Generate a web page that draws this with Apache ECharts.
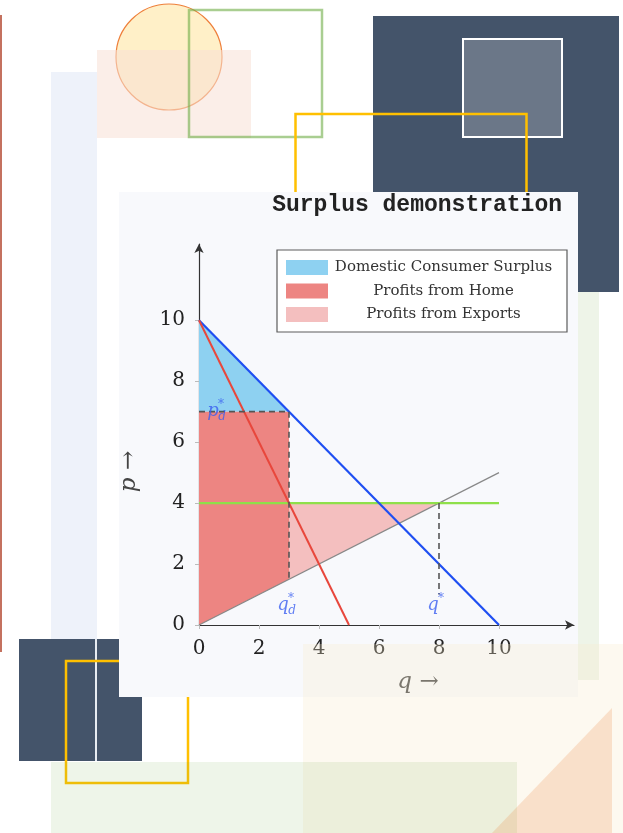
<!DOCTYPE html>
<html>
<head>
<meta charset="utf-8">
<script src="https://cdn.jsdelivr.net/npm/echarts@6/dist/echarts.min.js"></script>
<style>
  html, body { margin: 0; padding: 0; background: #fff; }
  #chart { width: 623px; height: 833px; }
</style>
</head>
<body>
<div id="chart"></div>
<script>
// tick labels
const xTicks = [0, 2, 4, 6, 8, 10];
const yTicks = [0, 2, 4, 6, 8, 10];

// curves, as (q, p) points
const demand = [[0, 10], [10, 0]];
const marginalRevenue = [[0, 10], [5, 0]];
const marginalCost = [[0, 0], [10, 5]];
const worldPrice = [[0, 4], [10, 4]];

// dashed guides
const pdGuide = [[0, 7], [3, 7]];
const qdGuide = [[3, 7], [3, 1.5]];
const qStarGuide = [[8, 4], [8, 1]];

// shaded regions
const consumerSurplus = [[0, 10], [0, 7], [3, 7]];
const homeProfits = [[0, 7], [3, 7], [3, 1.5], [0, 0]];
const exportProfits = [[3, 4], [8, 4], [3, 1.5]];
const areaNames = ['Domestic Consumer Surplus', 'Profits from Home', 'Profits from Exports'];

// guide labels: letter, subscript, anchor
const guideLabels = [['p', 'd', [0.47, 7.02]], ['q', 'd', [2.8, 0.66]], ['q', '', [7.8, 0.66]]];

const serif = 'DejaVu Serif';
const labelBlue = '#3a5ef0';

const chart = echarts.init(document.getElementById('chart'));

function area(name, pts, color) {
  return {
    type: 'custom',
    name: name,
    data: pts,
    z: 1,
    itemStyle: { color: color },
    renderItem: function (params, api) {
      if (params.dataIndex !== 0) return null;
      return {
        type: 'polygon',
        shape: { points: pts.map(function (p) { return api.coord(p); }) },
        style: { fill: color }
      };
    }
  };
}

function line(pts, color, width, dash) {
  return {
    type: 'line',
    data: pts,
    symbol: 'none',
    z: 3,
    lineStyle: { color: color, width: width, type: dash ? [6, 4] : 'solid' }
  };
}

// labels of the guides (letter + star + subscript)
const labelData = [];
guideLabels.forEach(function (g) {
  labelData.push({ value: g[2], label: { formatter: g[0], fontSize: 18 } });
  labelData.push({ value: g[2], label: { formatter: '*', fontSize: 12, offset: [8, -6] } });
  if (g[1]) labelData.push({ value: g[2], label: { formatter: g[1], fontSize: 12, offset: [9, 6] } });
});

const option = {
  backgroundColor: '#fff',
  animation: false,
  title: {
    text: 'Surplus demonstration',
    right: 61,
    top: 194,
    padding: 0,
    textStyle: { fontFamily: 'Liberation Mono', fontSize: 23, fontWeight: 'bold', color: '#222' }
  },
  legend: {
    data: areaNames,
    orient: 'vertical',
    left: 277,
    top: 250,
    padding: [10, 13, 10, 9],
    itemGap: 8.5,
    itemWidth: 42,
    itemHeight: 15,
    icon: 'rect',
    selectedMode: false,
    backgroundColor: '#fff',
    borderColor: '#5c5c5c',
    borderWidth: 1.2,
    formatter: function (name) { return '{c|' + name + '}'; },
    textStyle: {
      fontFamily: serif, fontSize: 15, color: '#333', lineHeight: 15,
      rich: { c: { width: 221, align: 'center', fontFamily: serif, fontSize: 15, lineHeight: 15, color: '#333' } }
    }
  },
  grid: { left: 199, right: 49, top: 244, bottom: 208 },
  xAxis: {
    type: 'value', min: 0, max: 12.5,
    name: '{i|q} →',
    nameLocation: 'middle',
    nameGap: 46,
    nameTextStyle: {
      fontFamily: serif, fontSize: 23, color: '#444', padding: [0, 0, 0, 63],
      rich: { i: { fontFamily: serif, fontStyle: 'italic', fontSize: 23, color: '#444' } }
    },
    axisLine: { lineStyle: { color: '#333', width: 1.2 }, symbol: ['none', 'arrow'], symbolSize: [7, 9] },
    axisTick: { customValues: xTicks, length: 4, lineStyle: { color: '#bbb' } },
    axisLabel: { customValues: xTicks, margin: 14, fontFamily: serif, fontSize: 20, color: '#222' },
    splitLine: { show: false }
  },
  yAxis: {
    type: 'value', min: 0, max: 12.5,
    name: '{i|p} →',
    nameLocation: 'middle',
    nameRotate: 90,
    nameGap: 58,
    nameTextStyle: {
      fontFamily: serif, fontSize: 23, color: '#444', padding: [0, 74, 0, 0],
      rich: { i: { fontFamily: serif, fontStyle: 'italic', fontSize: 23, color: '#444' } }
    },
    axisLine: { lineStyle: { color: '#333', width: 1.2 }, symbol: ['none', 'arrow'], symbolSize: [7, 9] },
    axisTick: { customValues: yTicks, length: 4, lineStyle: { color: '#bbb' } },
    axisLabel: { customValues: yTicks, margin: 14, fontFamily: serif, fontSize: 20, color: '#222' },
    splitLine: { show: false }
  },
  series: [
    area(areaNames[0], consumerSurplus, '#8ed1f1'),
    area(areaNames[1], homeProfits, '#ed8582'),
    area(areaNames[2], exportProfits, '#f4bfbf'),
    line(marginalCost, '#888', 1.2),
    line(worldPrice, '#8fe04a', 2.2),
    line(demand, '#1f4ff2', 2.2),
    line(marginalRevenue, '#e8473c', 2),
    line(pdGuide, '#555', 1.6, true),
    line(qdGuide, '#555', 1.6, true),
    line(qStarGuide, '#555', 1.6, true),
    {
      type: 'scatter',
      data: labelData,
      symbolSize: 0,
      z: 5,
      label: {
        show: true, position: 'inside', color: labelBlue,
        fontFamily: serif, fontStyle: 'italic'
      }
    }
  ],
  graphic: {
    elements: [
      { type: 'rect', silent: true, z: -20, shape: { x: 0, y: 15, width: 2, height: 637 }, style: { fill: '#c4715f' } },
      { type: 'rect', silent: true, z: -20, shape: { x: 51, y: 72, width: 46, height: 611 }, style: { fill: '#eef2fa' } },
      { type: 'circle', silent: true, z: -19, shape: { cx: 169, cy: 57, r: 53 }, style: { fill: '#fff0c8', stroke: '#ee7f3a', lineWidth: 1.2 } },
      { type: 'rect', silent: true, z: -18, shape: { x: 97, y: 50, width: 154, height: 88 }, style: { fill: 'rgba(248,224,213,0.55)' } },
      { type: 'rect', silent: true, z: -17, shape: { x: 189, y: 10, width: 133, height: 127 }, style: { fill: 'none', stroke: 'rgba(112,173,71,0.6)', lineWidth: 2.5 } },
      { type: 'rect', silent: true, z: -16, shape: { x: 373, y: 16, width: 246, height: 276 }, style: { fill: '#44546a' } },
      { type: 'rect', silent: true, z: -16, shape: { x: 560, y: 292, width: 39, height: 388 }, style: { fill: '#eef4e8' } },
      { type: 'rect', silent: true, z: -15, shape: { x: 463, y: 39, width: 99, height: 98 }, style: { fill: '#6b7788', stroke: '#fff', lineWidth: 2 } },
      { type: 'rect', silent: true, z: -14, shape: { x: 295.5, y: 114, width: 231, height: 200 }, style: { fill: 'none', stroke: '#ffc000', lineWidth: 2.5 } },
      { type: 'rect', silent: true, z: -13, shape: { x: 19, y: 639, width: 123, height: 122 }, style: { fill: '#44546a' } },
      { type: 'rect', silent: true, z: -12, shape: { x: 95, y: 639, width: 2, height: 122 }, style: { fill: '#e8ecf2' } },
      { type: 'rect', silent: true, z: -12, shape: { x: 66, y: 661, width: 122, height: 122 }, style: { fill: 'none', stroke: '#ffc000', lineWidth: 2.5 } },
      { type: 'rect', silent: true, z: -5, shape: { x: 119, y: 192, width: 459, height: 505 }, style: { fill: '#f8f9fc' } },
      { type: 'rect', silent: true, z: 20, shape: { x: 303, y: 644, width: 320, height: 189 }, style: { fill: 'rgba(250,234,205,0.3)' } },
      { type: 'rect', silent: true, z: 21, shape: { x: 51, y: 762, width: 466, height: 71 }, style: { fill: 'rgba(112,173,71,0.12)' } },
      { type: 'polygon', silent: true, z: 22, shape: { points: [[612, 708], [612, 833], [492, 833]] }, style: { fill: 'rgba(237,125,49,0.2)' } }
    ]
  }
};

chart.setOption(option);
</script>
</body>
</html>
